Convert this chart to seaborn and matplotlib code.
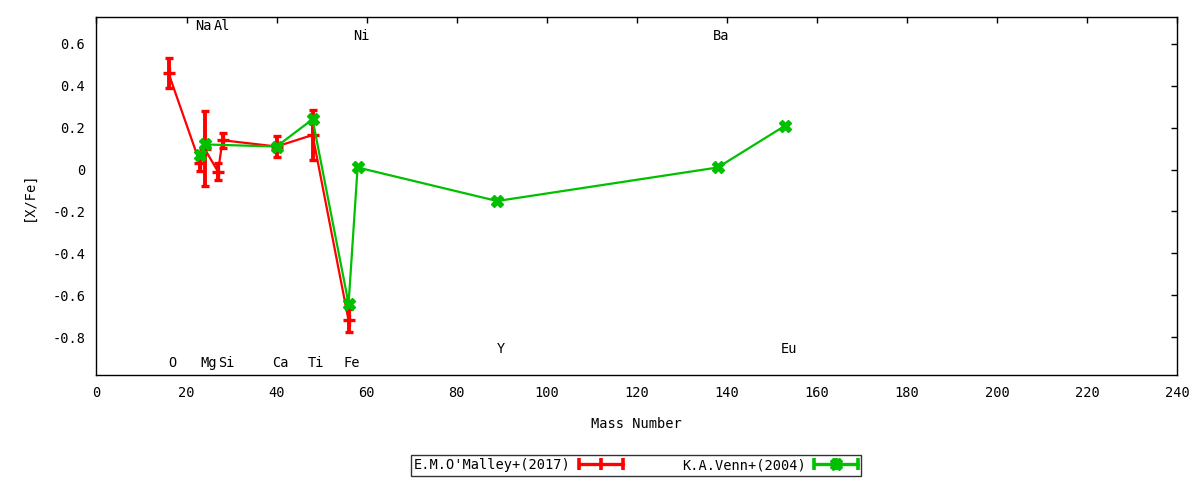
import numpy as np
import pandas as pd
import matplotlib
matplotlib.use('Agg')
import matplotlib.pyplot as plt
import seaborn as sns
from matplotlib.lines import Line2D
from matplotlib.legend_handler import HandlerBase

# O'Malley+(2017): [X/Fe] with errors
omalley_elem = ['O', 'Na', 'Mg', 'Al', 'Si', 'Ca', 'Ti', 'Fe']
omalley_mass = [16, 23, 24, 27, 28, 40, 48, 56]
omalley_xfe = [0.46, 0.03, 0.10, -0.01, 0.14, 0.11, 0.165, -0.72]
omalley_err = [0.07, 0.035, 0.18, 0.04, 0.035, 0.05, 0.12, 0.055]

# Venn+(2004)
venn_elem = ['Na', 'Mg', 'Ca', 'Ti', 'Fe', 'Ni', 'Y', 'Ba', 'Eu']
venn_mass = [23, 24, 40, 48, 56, 58, 89, 138, 153]
venn_xfe = [0.07, 0.12, 0.11, 0.24, -0.64, 0.01, -0.15, 0.01, 0.21]

# element name labels
label_elem = ['O', 'Na', 'Mg', 'Al', 'Si', 'Ca', 'Ti', 'Fe', 'Ni', 'Y', 'Ba', 'Eu']
label_mass = [16, 23, 24, 27, 28, 40, 48, 56, 58, 89, 138, 153]
label_row = ['b1', 't1', 'b1', 't1', 'b1', 'b1', 'b1', 'b1', 't2', 'b2', 't2', 'b2']

x_ticks = list(range(0, 241, 20))
y_ticks = [-0.8, -0.6, -0.4, -0.2, 0, 0.2, 0.4, 0.6]
y_ticklabels = ['-0.8', '-0.6', '-0.4', '-0.2', '0', '0.2', '0.4', '0.6']

df_om = pd.DataFrame({'mass': omalley_mass, 'xfe': omalley_xfe, 'err': omalley_err})
df_ve = pd.DataFrame({'mass': venn_mass, 'xfe': venn_xfe})

sns.set_style('white')
plt.rcParams['font.family'] = ['DejaVu Sans Mono']
plt.rcParams['text.color'] = 'black'
plt.rcParams['axes.labelcolor'] = 'black'
fs = 9.8

red = '#ff0000'
green = '#00c000'


# gnuplot-like legend sample: line with end ticks and a centre mark
class ErrHandler(HandlerBase):
    def __init__(self, centre=None):
        super().__init__()
        self.centre = centre

    def create_artists(self, legend, orig, xd, yd, w, h, fontsize, trans):
        c = orig.get_color()
        y = (h - yd) / 2
        x0, x1 = -xd, -xd + w
        arts = [Line2D([x0, x1], [y, y], color=c, lw=2.4),
                Line2D([x0, (x0 + x1) / 2, x1], [y] * 3, ls='none', marker='|',
                       ms=8, mew=2.6, color=c)]
        if self.centre:
            arts.append(Line2D([(x0 + x1) / 2], [y], ls='none', marker=self.centre,
                               ms=9, mew=1, mec=c, color=c))
        for a in arts:
            a.set_transform(trans)
        return arts


fig = plt.figure(figsize=(12, 4.8), dpi=100)
ax = fig.add_axes([0.0804, 0.2188, 0.9004, 0.7458])

sns.lineplot(data=df_om, x='mass', y='xfe', color=red, lw=1.6, sort=False, ax=ax, zorder=2)
ax.errorbar(df_om['mass'], df_om['xfe'], yerr=df_om['err'], fmt='+', color=red,
            ms=8, mew=2.4, elinewidth=2.8, capsize=3.0, capthick=2.6, zorder=3)

sns.lineplot(data=df_ve, x='mass', y='xfe', color=green, lw=1.6, sort=False, ax=ax,
             marker='X', markersize=9, markeredgewidth=1, markeredgecolor=green, zorder=4)

rows = {'t1': 0.683, 't2': 0.635, 'b1': -0.922, 'b2': -0.855}
for el, m, r in zip(label_elem, label_mass, label_row):
    ax.text(m + 0.8, rows[r], el, ha='center', va='center', fontsize=fs)

ax.set_xlim(0, 240)
ax.set_ylim(-0.98, 0.728)
ax.set_xticks(x_ticks)
ax.set_yticks(y_ticks)
ax.set_yticklabels(y_ticklabels)
ax.tick_params(direction='in', length=4, width=1, top=True, right=True,
               labelsize=fs, pad=8, colors='black')
for s in ax.spines.values():
    s.set_color('black')
    s.set_linewidth(1)
ax.set_xlabel('Mass Number', fontsize=fs, labelpad=12)
ax.set_ylabel('[X/Fe]', fontsize=fs, labelpad=12)

h_red = Line2D([], [], color=red)
h_green = Line2D([], [], color=green)
leg = fig.legend([h_red, h_green], ["E.M.O'Malley+(2017)", 'K.A.Venn+(2004)'],
                 handler_map={h_red: ErrHandler(), h_green: ErrHandler('X')},
                 loc='center', bbox_to_anchor=(0.53, 0.031), ncol=2,
                 markerfirst=False, frameon=True, fancybox=False, edgecolor='black',
                 handlelength=3.2, handletextpad=0.6, columnspacing=4.4,
                 borderpad=0.25, fontsize=fs)
leg.get_frame().set_linewidth(1)

fig.savefig('out.png', dpi=100)
